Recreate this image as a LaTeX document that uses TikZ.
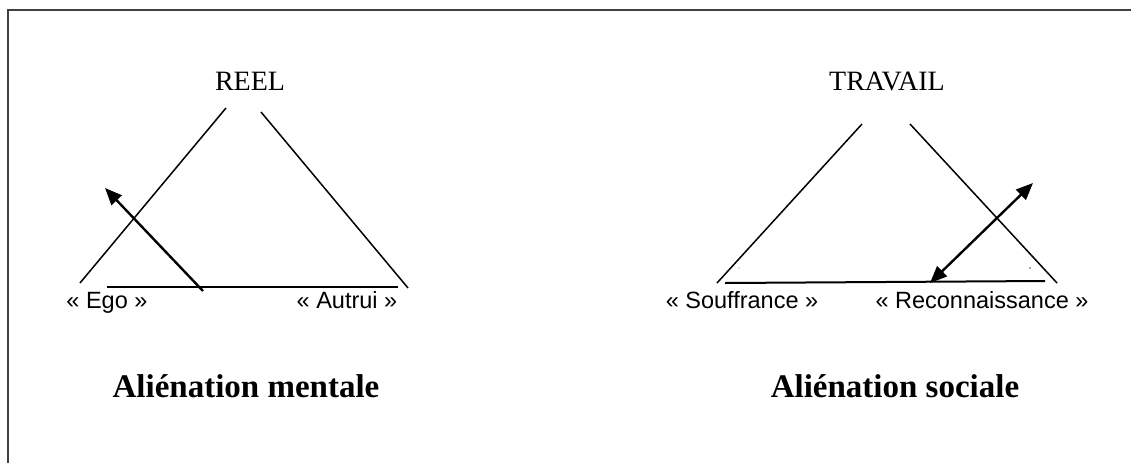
\documentclass[tikz,border=0pt]{standalone}
\usepackage{fontspec}
\setmainfont{Liberation Serif}
\newfontfamily\labelfont{Liberation Sans}
\usetikzlibrary{arrows.meta}
\tikzset{
  leg/.style={line width=1.5pt, black},
  basel/.style={line width=2pt, black},
  arr/.style={line width=2.4pt, -{Triangle[length=17pt,width=14pt]}},
  darr/.style={line width=2.4pt, {Triangle[length=17pt,width=14pt]}-{Triangle[length=17pt,width=14pt]}},
  toplbl/.style={font=\fontsize{28}{30}\selectfont, anchor=base, inner sep=0pt},
  cornerlbl/.style={font=\labelfont\fontsize{23.5}{25}\selectfont, anchor=base, inner sep=0pt},
  title/.style={font=\bfseries\fontsize{33}{36}\selectfont, anchor=base, inner sep=0pt},
  frameline/.style={line width=2pt, black!75}
}
\begin{document}
\begin{tikzpicture}[x=1pt,y=-1pt]
\useasboundingbox (0,0) rectangle (1131,463);
% frame
\coordinate (f1) at (1131,10);
\coordinate (f2) at (8,10);
\coordinate (f3) at (8,463);
\draw[frameline] (f1) -- (f2) -- (f3);

% left triangle
\coordinate (l1a) at (80,283);
\coordinate (l1b) at (226,108);
\coordinate (l2a) at (261,112);
\coordinate (l2b) at (408,288);
\coordinate (l3a) at (107,287);
\coordinate (l3b) at (398,287);
\coordinate (la1) at (203,291);
\coordinate (la2) at (105,188);
\draw[leg] (l1a) -- (l1b);
\draw[leg] (l2a) -- (l2b);
\draw[leg] (l3a) -- (l3b);
\draw[arr] (la1) -- (la2);
\node[toplbl] (reel) at (250,90) {REEL};
\node[cornerlbl] (ego) at (107,308) {« Ego »};
\node[cornerlbl] (autrui) at (347,308) {« Autrui »};
\node[title] (t1) at (246,397) {Aliénation mentale};

% right triangle
\coordinate (r1a) at (717,283);
\coordinate (r1b) at (862,124);
\coordinate (r2a) at (910,124);
\coordinate (r2b) at (1057,283);
\coordinate (r3a) at (725,283);
\coordinate (r3b) at (1045,281);
\coordinate (ra1) at (930,283);
\coordinate (ra2) at (1033,183);
\draw[leg] (r1a) -- (r1b);
\draw[leg] (r2a) -- (r2b);
\draw[basel] (r3a) -- (r3b);
\draw[darr] (ra1) -- (ra2);
\fill[black!60] (739,268) circle (0.6pt);
\fill[black!70] (1030,268) circle (0.9pt);
\node[toplbl] (travail) at (887,90) {TRAVAIL};
\node[cornerlbl] (souf) at (742,308) {« Souffrance »};
\node[cornerlbl] (reco) at (982,308) {« Reconnaissance »};
\node[title] (t2) at (895,397) {Aliénation sociale};
\end{tikzpicture}
\end{document}
